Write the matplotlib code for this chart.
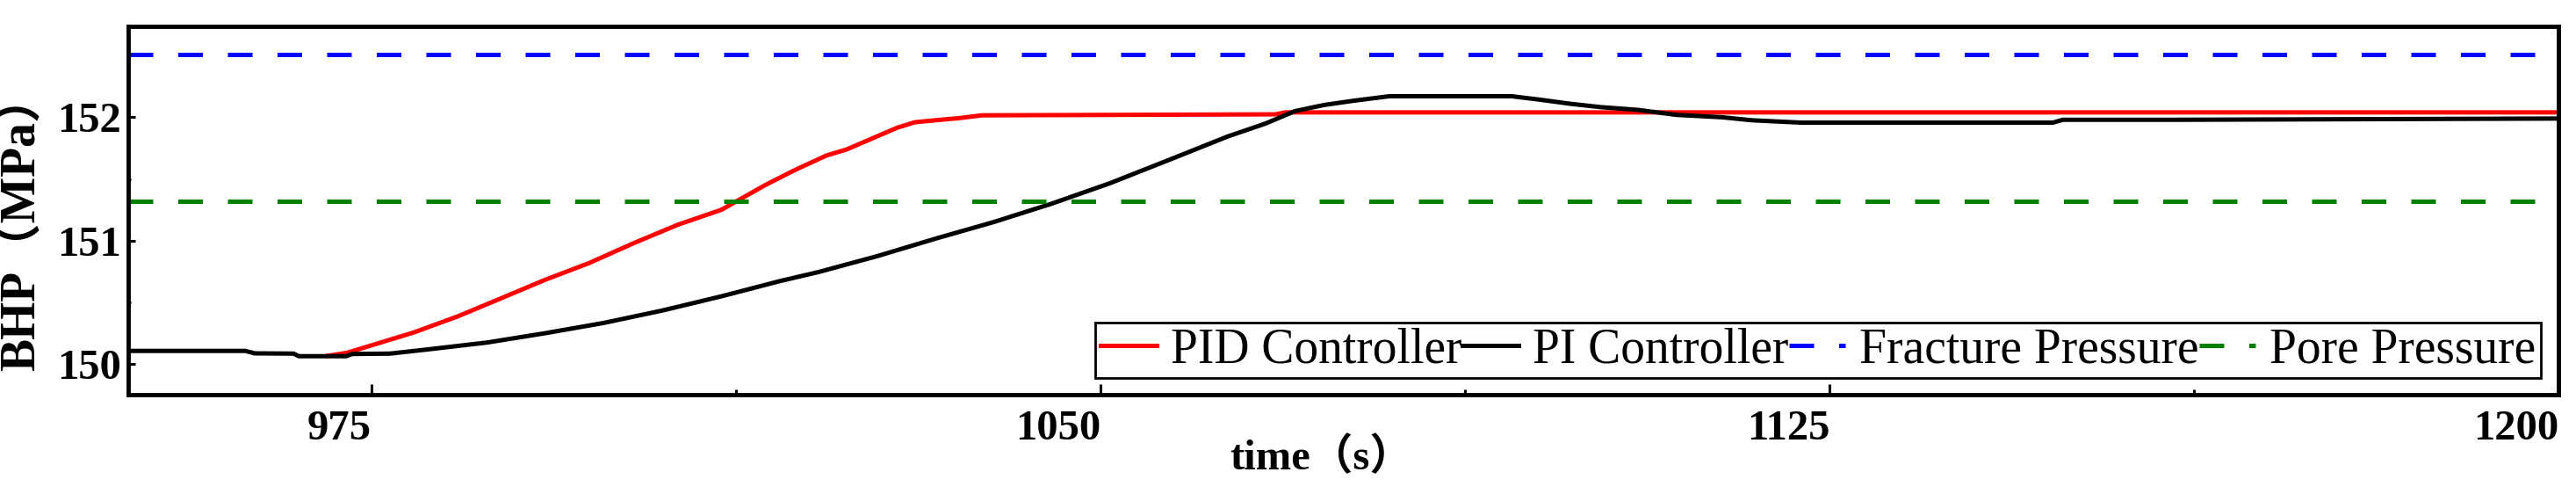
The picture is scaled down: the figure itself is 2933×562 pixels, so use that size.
import matplotlib
matplotlib.use("Agg")
import matplotlib.pyplot as plt
from matplotlib import font_manager
from matplotlib.ticker import MultipleLocator

# Fuentes: serif para el texto latino, CJK para los paréntesis de ancho completo
available = {f.name for f in font_manager.fontManager.ttflist}
serif = [n for n in ['Liberation Serif', 'Times New Roman', 'DejaVu Serif'] if n in available]
plt.rcParams['font.family'] = serif[:1] + ['Noto Sans CJK SC']

# Datos
time_pid = [970.5, 972.5, 975.0, 979.4, 983.9, 988.4, 992.9, 997.4, 1002.0, 1006.5,
            1011.0, 1012.8, 1015.5, 1018.5, 1021.8, 1023.9, 1027.0, 1029.1, 1030.9,
            1033.0, 1035.4, 1037.8, 1068.0, 1069.0, 1200.0]
bhp_pid = [150.065, 150.09, 150.15, 150.256, 150.386, 150.534, 150.683, 150.818, 150.98,
           151.128, 151.25, 151.33, 151.45, 151.57, 151.69, 151.74, 151.845, 151.916,
           151.96, 151.976, 151.993, 152.016, 152.024, 152.04, 152.04]

time_pi = [950.0, 962.0, 963.0, 967.0, 967.5, 972.4, 973.0, 976.9, 980.9, 986.9, 992.9,
           998.9, 1005.0, 1011.0, 1017.0, 1021.0, 1027.0, 1033.0, 1039.0, 1045.0, 1051.0,
           1057.1, 1063.1, 1067.0, 1070.0, 1073.0, 1076.1, 1079.7, 1092.3, 1095.3, 1098.3,
           1101.4, 1105.3, 1109.2, 1114.0, 1117.0, 1122.0, 1148.0, 1149.0, 1161.0, 1200.0]
bhp_pi = [150.105, 150.105, 150.085, 150.083, 150.062, 150.062, 150.08, 150.083, 150.118,
          150.173, 150.249, 150.332, 150.434, 150.548, 150.671, 150.745, 150.873, 151.015,
          151.15, 151.30, 151.466, 151.656, 151.845, 151.95, 152.05, 152.10, 152.135,
          152.171, 152.171, 152.142, 152.11, 152.083, 152.06, 152.02, 152.0, 151.976,
          151.957, 151.957, 151.98, 151.98, 151.99]

fracture_pressure = 152.51
pore_pressure = 151.32

labels = ['PID Controller', 'PI Controller', 'Fracture Pressure', 'Pore Pressure']
x_ticks = [975, 1050, 1125, 1200]
y_ticks = [150, 151, 152]

fig = plt.figure(figsize=(29.33, 5.62), dpi=100)
ax = fig.add_axes([0.0499, 0.2011, 0.9433, 0.7461])

lw = 3.6
dash = (0, (5.6, 5.7))
ax.plot(time_pid, bhp_pid, color='#ff0000', lw=lw, label=labels[0])
ax.plot(time_pi, bhp_pi, color='black', lw=lw, label=labels[1])
ax.axhline(fracture_pressure, color='#0000ff', lw=lw, ls=dash, label=labels[2])
ax.axhline(pore_pressure, color='#008000', lw=lw, ls=dash, label=labels[3])

ax.set_xlim(950, 1200)
ax.set_ylim(149.75, 152.74)
ax.set_xticks(x_ticks)
ax.set_yticks(y_ticks)
ax.xaxis.set_minor_locator(MultipleLocator(37.5))
ax.yaxis.set_minor_locator(MultipleLocator(0.5))

ax.tick_params(axis='both', which='both', direction='in', top=False, right=False, width=2.2)
ax.tick_params(axis='x', which='major', length=8.6, pad=12, labelsize=35)
ax.tick_params(axis='x', which='minor', length=4.3)
ax.tick_params(axis='y', which='major', length=6, pad=6, labelsize=35)
ax.tick_params(axis='y', which='minor', length=2.5)
for lab in ax.get_xticklabels():
    lab.set_fontweight('bold')
    lab.set_horizontalalignment('right')
for lab in ax.get_yticklabels():
    lab.set_fontweight('bold')

for sp in ax.spines.values():
    sp.set_linewidth(3.5)

ax.set_xlabel('time（s）', fontsize=35, fontweight='bold')
ax.set_ylabel('BHP（MPa）', fontsize=40, fontweight='bold')
ax.xaxis.set_label_coords(0.4907, -0.1145)
ax.yaxis.set_label_coords(-0.0344, 0.47)

leg = ax.legend(loc='lower right', bbox_to_anchor=(0.9928, 0.045), ncol=4,
                fontsize=40, frameon=True, fancybox=False, framealpha=1,
                edgecolor='black', handlelength=1.15, handletextpad=0.3,
                columnspacing=0.0, borderpad=0.1, borderaxespad=0.0)
leg.get_frame().set_linewidth(2)

fig.savefig('out.png', dpi=100)
